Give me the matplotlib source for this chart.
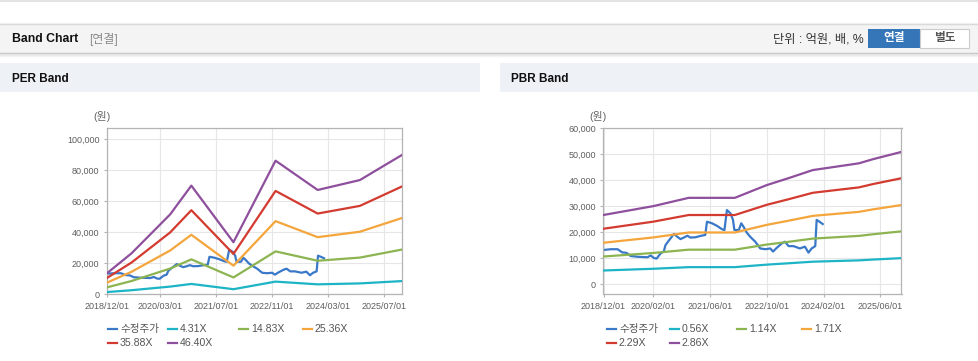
import matplotlib
matplotlib.use('Agg')
import matplotlib.pyplot as plt
import matplotlib.dates as mdates
from matplotlib.patches import Rectangle
from matplotlib.lines import Line2D
from matplotlib.ticker import FixedLocator, FuncFormatter
import pandas as pd

plt.rcParams['font.family'] = ['Liberation Sans', 'Noto Sans CJK KR']

# ---------------- data ----------------
price_dates = ['2018-12-01', '2019-02-01', '2019-04-01', '2019-05-10', '2019-06-16', '2019-07-22',
               '2019-09-19', '2019-12-13', '2020-01-10', '2020-02-07', '2020-03-01', '2020-04-04',
               '2020-05-01', '2020-05-16', '2020-06-13', '2020-07-28', '2020-08-25', '2020-09-22',
               '2020-10-25', '2020-11-19', '2020-12-16', '2021-01-28', '2021-03-10', '2021-04-22',
               '2021-05-07', '2021-06-19', '2021-08-01', '2021-09-13', '2021-10-04', '2021-10-25',
               '2021-11-25', '2021-12-16', '2021-12-28', '2022-02-04', '2022-02-25', '2022-03-16',
               '2022-04-13', '2022-05-13', '2022-06-25', '2022-08-07', '2022-09-19', '2022-11-01',
               '2022-11-25', '2022-12-28', '2023-02-10', '2023-03-07', '2023-04-07', '2023-05-19',
               '2023-07-13', '2023-08-25', '2023-09-25', '2023-10-22', '2023-11-22', '2023-12-04',
               '2023-12-28', '2024-01-25']
price_values = [13100, 13400, 13400, 12200, 12000, 10800,
                10500, 10300, 11000, 10000, 9800, 11800,
                12500, 15000, 16700, 19300, 18200, 17300,
                18000, 18600, 17900, 18000, 18500, 18900,
                24000, 23400, 22400, 21100, 20800, 28500,
                27200, 24700, 20800, 20800, 23400, 22100,
                19800, 18200, 16300, 13700, 13400, 13700,
                12500, 14000, 15700, 16300, 14600, 14600,
                13700, 14400, 12100, 13700, 14600, 24700,
                24000, 23100]

per_dates = ['2018-12-01', '2019-07-01', '2020-01-01', '2020-06-01', '2020-12-01',
             '2021-12-01', '2022-12-01', '2023-12-01', '2024-12-01', '2025-12-01']
per_4_31 = [1250, 2430, 3720, 4780, 6490, 3100, 7990, 6230, 6830, 8330]
per_14_83 = [4280, 8370, 12780, 16430, 22340, 10680, 27490, 21450, 23490, 28670]
per_25_36 = [7320, 14320, 21860, 28090, 38200, 18260, 47000, 36670, 40170, 49030]
per_35_88 = [10360, 20260, 30930, 39750, 54050, 25830, 66500, 51890, 56840, 69360]
per_46_40 = [13400, 26200, 40000, 51400, 69900, 33400, 86000, 67100, 73500, 89700]
per_labels = ['수정주가', '4.31X', '14.83X', '25.36X', '35.88X', '46.40X']
per_xticks = ['2018-12-01', '2020-03-01', '2021-07-01', '2022-11-01', '2024-03-01', '2025-07-01']
per_yticks = [0, 20000, 40000, 60000, 80000, 100000]

pbr_dates = ['2018-12-01', '2020-02-01', '2020-12-01', '2022-01-01', '2022-10-01',
             '2023-04-01', '2023-11-01', '2024-12-01', '2025-04-01', '2025-12-01']
pbr_0_56 = [5210, 5870, 6500, 6500, 7460, 7970, 8600, 9110, 9420, 9970]
pbr_1_14 = [10600, 11960, 13230, 13230, 15190, 16220, 17500, 18540, 19170, 20290]
pbr_1_71 = [15900, 17940, 19850, 19850, 22780, 24340, 26250, 27800, 28760, 30430]
pbr_2_29 = [21300, 24020, 26580, 26580, 30510, 32590, 35150, 37230, 38510, 40760]
pbr_2_86 = [26600, 30000, 33200, 33200, 38100, 40700, 43900, 46500, 48100, 50900]
pbr_labels = ['수정주가', '0.56X', '1.14X', '1.71X', '2.29X', '2.86X']
pbr_xticks = ['2018-12-01', '2020-02-01', '2021-06-01', '2022-10-01', '2024-02-01', '2025-06-01']
pbr_yticks = [0, 10000, 20000, 30000, 40000, 50000, 60000]

# ---------------- style ----------------
W, H = 979, 361
COLORS = ['#3a78c8', '#1db4c6', '#8cb450', '#f4a53c', '#d33b30', '#8e4f9c']
SPINE = '#b4b4b4'
GRID = '#e6e6e6'
TICKC = '#5e5e5e'

fig = plt.figure(figsize=(W / 100, H / 100), dpi=100)
fig.patch.set_facecolor('white')


def fx(x):
    return x / W


def fy(y):
    return 1 - y / H


def rect(x0, y0, x1, y1, fc, ec='none', lw=0, z=0):
    fig.add_artist(Rectangle((fx(x0), fy(y1)), (x1 - x0) / W, (y1 - y0) / H,
                             transform=fig.transFigure, facecolor=fc, edgecolor=ec,
                             linewidth=lw, zorder=z))


def hline(y, x0, x1, c, lw=1.0):
    fig.add_artist(Line2D([fx(x0), fx(x1)], [fy(y), fy(y)], transform=fig.transFigure,
                          color=c, linewidth=lw))


# page chrome
hline(0.5, 0, W, '#dedede', 1.2)
rect(0, 23, W, 53, '#f4f4f4')
hline(23.5, 0, W, '#dadada', 1.0)
hline(53, 0, W, '#c8c8c8', 1.0)
hline(54.5, 0, W, '#e4e4e4', 1.2)
hline(56, 0, W, '#f2f2f2', 1.0)
fig.text(fx(12), fy(38.5), 'Band Chart', fontsize=8.8, fontweight='bold', color='#111111',
         va='center', ha='left')
fig.text(fx(89), fy(39), '[연결]', fontsize=8.6, color='#8a8a8a', va='center', ha='left')
fig.text(fx(864), fy(39), '단위 : 억원, 배, %', fontsize=8.8, color='#333333', va='center', ha='right')
rect(868, 28.5, 920, 47.5, '#3576b9', z=2)
rect(920, 28.5, 969.5, 47.5, 'white', ec='#cccccc', lw=0.8, z=2)
fig.text(fx(894), fy(38.5), '연결', fontsize=8.4, fontweight='bold', color='white', va='center',
         ha='center', zorder=3)
fig.text(fx(945), fy(38.5), '별도', fontsize=8.4, fontweight='bold', color='#555555', va='center',
         ha='center', zorder=3)

# panel headers
rect(0, 63, 480, 92, '#eef1f6')
rect(500, 63, W, 92, '#eef1f6')
fig.text(fx(12), fy(79), 'PER Band', fontsize=8.5, fontweight='bold', color='#111111',
         va='center', ha='left')
fig.text(fx(511), fy(79), 'PBR Band', fontsize=8.5, fontweight='bold', color='#111111',
         va='center', ha='left')


def make_axes(left, right, top, bottom):
    return fig.add_axes([fx(left), fy(bottom), (right - left) / W, (bottom - top) / H])


def style_axes(ax, xticks, yticks, ylim):
    ax.set_xlim(pd.Timestamp('2018-12-01'), pd.Timestamp('2025-12-01'))
    ax.set_ylim(*ylim)
    ax.xaxis.set_major_locator(FixedLocator(mdates.date2num(pd.to_datetime(xticks))))
    ax.xaxis.set_major_formatter(mdates.DateFormatter('%Y/%m/%d'))
    ax.yaxis.set_major_locator(FixedLocator(yticks))
    ax.yaxis.set_major_formatter(FuncFormatter(lambda v, p: f'{int(v):,}'))
    ax.grid(True, color=GRID, linewidth=0.8)
    ax.set_axisbelow(True)
    for s in ax.spines.values():
        s.set_color(SPINE)
        s.set_linewidth(0.9)
    ax.tick_params(axis='both', colors=SPINE, labelcolor=TICKC, labelsize=6.5, length=2.5,
                   width=0.8)
    ax.tick_params(axis='x', pad=3)
    ax.tick_params(axis='y', pad=3)


def legend(xs_row1, xs_row2, labels):
    pos = [(x, 329) for x in xs_row1] + [(x, 343) for x in xs_row2]
    for (x, y), lab, c in zip(pos, labels, COLORS):
        fig.add_artist(Line2D([fx(x - 13), fx(x - 4)], [fy(y), fy(y)], transform=fig.transFigure,
                              color=c, linewidth=1.6))
        fig.text(fx(x - 1), fy(y), lab, fontsize=7.6, color='#555555', va='center', ha='left')


# PER chart
ax1 = make_axes(107, 402, 127.5, 294)
pd_dates = pd.to_datetime(price_dates)
per_d = pd.to_datetime(per_dates)
ax1.plot(pd_dates, price_values, color=COLORS[0], lw=1.6, zorder=2)
for vals, c in zip([per_4_31, per_14_83, per_25_36, per_35_88, per_46_40], COLORS[1:]):
    ax1.plot(per_d, vals, color=c, lw=1.6, zorder=3)
style_axes(ax1, per_xticks, per_yticks, (0, 107400))
fig.text(fx(102), fy(117), '(원)', fontsize=7.8, color='#666666', va='center', ha='center')
legend([121, 181, 252, 316], [121, 181], per_labels)

# PBR chart
ax2 = make_axes(603.5, 901.5, 127.5, 294)
pbr_d = pd.to_datetime(pbr_dates)
ax2.plot(pd_dates, price_values, color=COLORS[0], lw=1.6, zorder=2)
for vals, c in zip([pbr_0_56, pbr_1_14, pbr_1_71, pbr_2_29, pbr_2_86], COLORS[1:]):
    ax2.plot(pbr_d, vals, color=c, lw=1.6, zorder=3)
style_axes(ax2, pbr_xticks, pbr_yticks, (-3850, 60300))
fig.text(fx(598), fy(117), '(원)', fontsize=7.8, color='#666666', va='center', ha='center')
legend([620, 683, 750, 815], [620, 683], pbr_labels)

fig.savefig('out.png', dpi=100)
